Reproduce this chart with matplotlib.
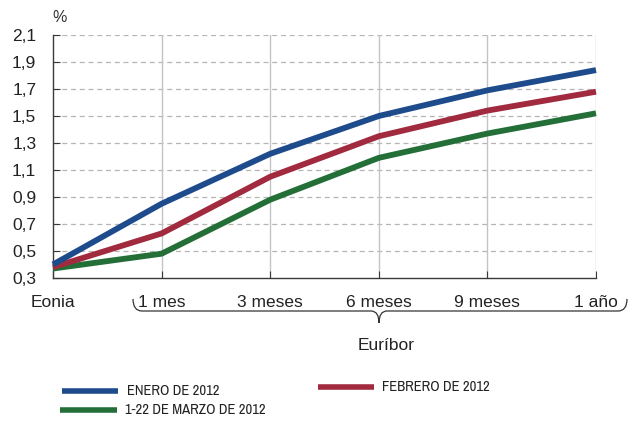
import matplotlib
matplotlib.use("Agg")
import matplotlib.pyplot as plt
from matplotlib import font_manager
from matplotlib.path import Path
from matplotlib.patches import PathPatch
from matplotlib.lines import Line2D

categories = ["Eonia", "1 mes", "3 meses", "6 meses", "9 meses", "1 año"]
enero = [0.40, 0.85, 1.22, 1.50, 1.69, 1.84]
febrero = [0.38, 0.63, 1.05, 1.35, 1.54, 1.68]
marzo = [0.37, 0.48, 0.88, 1.19, 1.37, 1.52]
yticks = [0.3, 0.5, 0.7, 0.9, 1.1, 1.3, 1.5, 1.7, 1.9, 2.1]
series_names = ["ENERO DE 2012", "FEBRERO DE 2012", "1-22 DE MARZO DE 2012"]

BLUE = "#1e4b8c"
RED = "#a12a3e"
GREEN = "#246f38"

fonts = font_manager.fontManager.ttflist
avail = {f.name for f in fonts}
main_font = "Liberation Sans" if "Liberation Sans" in avail else "DejaVu Sans"

# pick a condensed face for the legend when one is installed
narrow_font, narrow_stretch = main_font, "normal"
for f in fonts:
    if "Narrow" in f.name or "Condensed" in f.name:
        narrow_font, narrow_stretch = f.name, "normal"
        break
else:
    for f in fonts:
        if f.stretch in ("condensed", "semi-condensed") and f.style == "normal" and f.weight in (400, "normal"):
            narrow_font, narrow_stretch = f.name, f.stretch
            break
legend_size = 10.5 if narrow_font != main_font else 9.3

plt.rcParams["font.family"] = main_font

W, H = 630, 423
fig = plt.figure(figsize=(W / 100, H / 100), dpi=100)
ax = fig.add_axes([53 / W, 1 - 278 / H, (596 - 53) / W, (278 - 35) / H])

x = list(range(len(categories)))
for vals, col in [(marzo, GREEN), (febrero, RED), (enero, BLUE)]:
    ax.plot(x, vals, color=col, lw=4.2, solid_capstyle="butt", zorder=3, clip_on=False)

ax.set_xlim(0, len(categories) - 1)
ax.set_ylim(0.3, 2.1)
ax.set_yticks(yticks)
ax.set_yticklabels([f"{v:.1f}".replace(".", ",") for v in yticks])
ax.set_xticks(x)
ax.set_xticklabels(categories)

for v in yticks[1:]:
    ax.axhline(v, color="#b5b5b5", lw=0.9, ls=(0, (4, 3)), zorder=1)
for xi in x[1:]:
    ax.axvline(xi, color="#c4c4c8", lw=1.0, zorder=1)

for s in ["top", "right"]:
    ax.spines[s].set_visible(False)
ax.spines["left"].set_color("#3a3a3a")
ax.spines["bottom"].set_color("#3a3a3a")
ax.spines["left"].set_linewidth(1.0)
ax.spines["bottom"].set_linewidth(1.0)
ax.tick_params(axis="y", direction="in", length=5, color="#3a3a3a", labelsize=12.5,
               pad=12, labelcolor="#222222")
ax.tick_params(axis="x", direction="in", length=5, color="#3a3a3a", labelsize=12.5,
               pad=12, labelcolor="#222222")

fig.text(60 / W, 1 - 17 / H, "%", ha="center", va="center", fontsize=11.5, color="#333333")

# curly brace grouping the Euríbor maturities
def px(xp, yp):
    return (xp / W, 1 - yp / H)

yt, ym, yb = 299, 311, 323
xl, xc, xr = 133, 379, 627
verts = [px(xl, yt), px(xl, ym), px(xl + 9, ym),
         px(xc - 8, ym),
         px(xc, ym), px(xc, yb),
         px(xc, ym), px(xc + 8, ym),
         px(xr - 9, ym),
         px(xr, ym), px(xr, yt)]
codes = [Path.MOVETO, Path.CURVE3, Path.CURVE3,
         Path.LINETO,
         Path.CURVE3, Path.CURVE3,
         Path.CURVE3, Path.CURVE3,
         Path.LINETO,
         Path.CURVE3, Path.CURVE3]
brace = PathPatch(Path(verts, codes), transform=fig.transFigure, fill=False,
                  edgecolor="#333333", lw=0.9)
fig.add_artist(brace)
fig.text(386 / W, 1 - 345 / H, "Euríbor", ha="center", va="center", fontsize=12.5,
         color="#222222")

# legend drawn in figure coordinates
legend_items = [
    (series_names[0], BLUE, 62, 118, 391, 127),
    (series_names[1], RED, 318, 374, 387, 382),
    (series_names[2], GREEN, 60, 117, 410, 125),
]
for label, col, x0, x1, yy, xt in legend_items:
    fig.add_artist(Line2D([x0 / W, x1 / W], [1 - yy / H, 1 - yy / H], transform=fig.transFigure,
                          color=col, lw=4.0, solid_capstyle="butt"))
    fig.text(xt / W, 1 - yy / H, label, ha="left", va="center", fontsize=legend_size,
             family=narrow_font, fontstretch=narrow_stretch, color="#222222")

fig.savefig("out.png", dpi=100)
